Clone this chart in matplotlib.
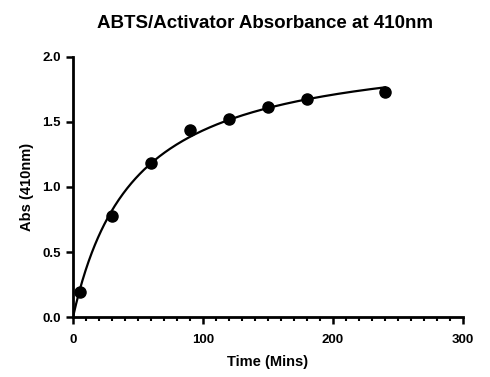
import numpy as np
import matplotlib
matplotlib.use("Agg")
import matplotlib.pyplot as plt
from matplotlib.ticker import MultipleLocator

# data
time_min = [5, 30, 60, 90, 120, 150, 180, 240]
absorbance = [0.195, 0.777, 1.187, 1.438, 1.525, 1.613, 1.677, 1.728]
x_ticks = [0, 100, 200, 300]
y_ticks = [0.0, 0.5, 1.0, 1.5, 2.0]

plt.rcParams['font.family'] = ['Liberation Sans', 'DejaVu Sans']
plt.rcParams['font.weight'] = 'bold'

# one site binding (hyperbola) fit: y = Bmax*x/(Kd+x)
x = np.array(time_min, dtype=float)
y = np.array(absorbance)
best = None
for kd in np.linspace(1, 200, 4000):
    f = x / (kd + x)
    bmax = np.sum(y * f) / np.sum(f * f)
    sse = np.sum((y - bmax * f) ** 2)
    if best is None or sse < best[0]:
        best = (sse, kd, bmax)
_, kd, bmax = best
xf = np.linspace(0, max(time_min), 300)
yf = bmax * xf / (kd + xf)

fig = plt.figure(figsize=(4.9, 3.77), dpi=100)
ax = fig.add_axes([0.149, 0.159, 0.796, 0.690])

ax.plot(xf, yf, color='black', linewidth=1.6)
ax.plot(time_min, absorbance, 'o', color='black', markersize=8)

ax.set_xlim(0, 300)
ax.set_ylim(0, 2.0)
ax.set_xticks(x_ticks)
ax.set_yticks(y_ticks)
ax.set_yticklabels([f"{v:.1f}" for v in y_ticks])
ax.xaxis.set_minor_locator(MultipleLocator(10))

for s in ['top', 'right']:
    ax.spines[s].set_visible(False)
for s in ['left', 'bottom']:
    ax.spines[s].set_linewidth(2)
ax.tick_params(which='major', length=5, width=1.8, labelsize=9.5, pad=4)
ax.tick_params(axis='x', which='major', pad=7)
ax.tick_params(which='minor', length=3, width=1.5)
for lab in ax.get_xticklabels() + ax.get_yticklabels():
    lab.set_fontweight('bold')

ax.set_xlabel("Time (Mins)", fontsize=10.5, fontweight='bold', labelpad=7)
ax.set_ylabel("Abs (410nm)", fontsize=10.5, fontweight='bold', labelpad=6)
fig.text(0.54, 0.96, "ABTS/Activator Absorbance at 410nm", ha='center', va='top',
         fontsize=13.5, fontweight='bold')

fig.savefig("out.png", dpi=100)
